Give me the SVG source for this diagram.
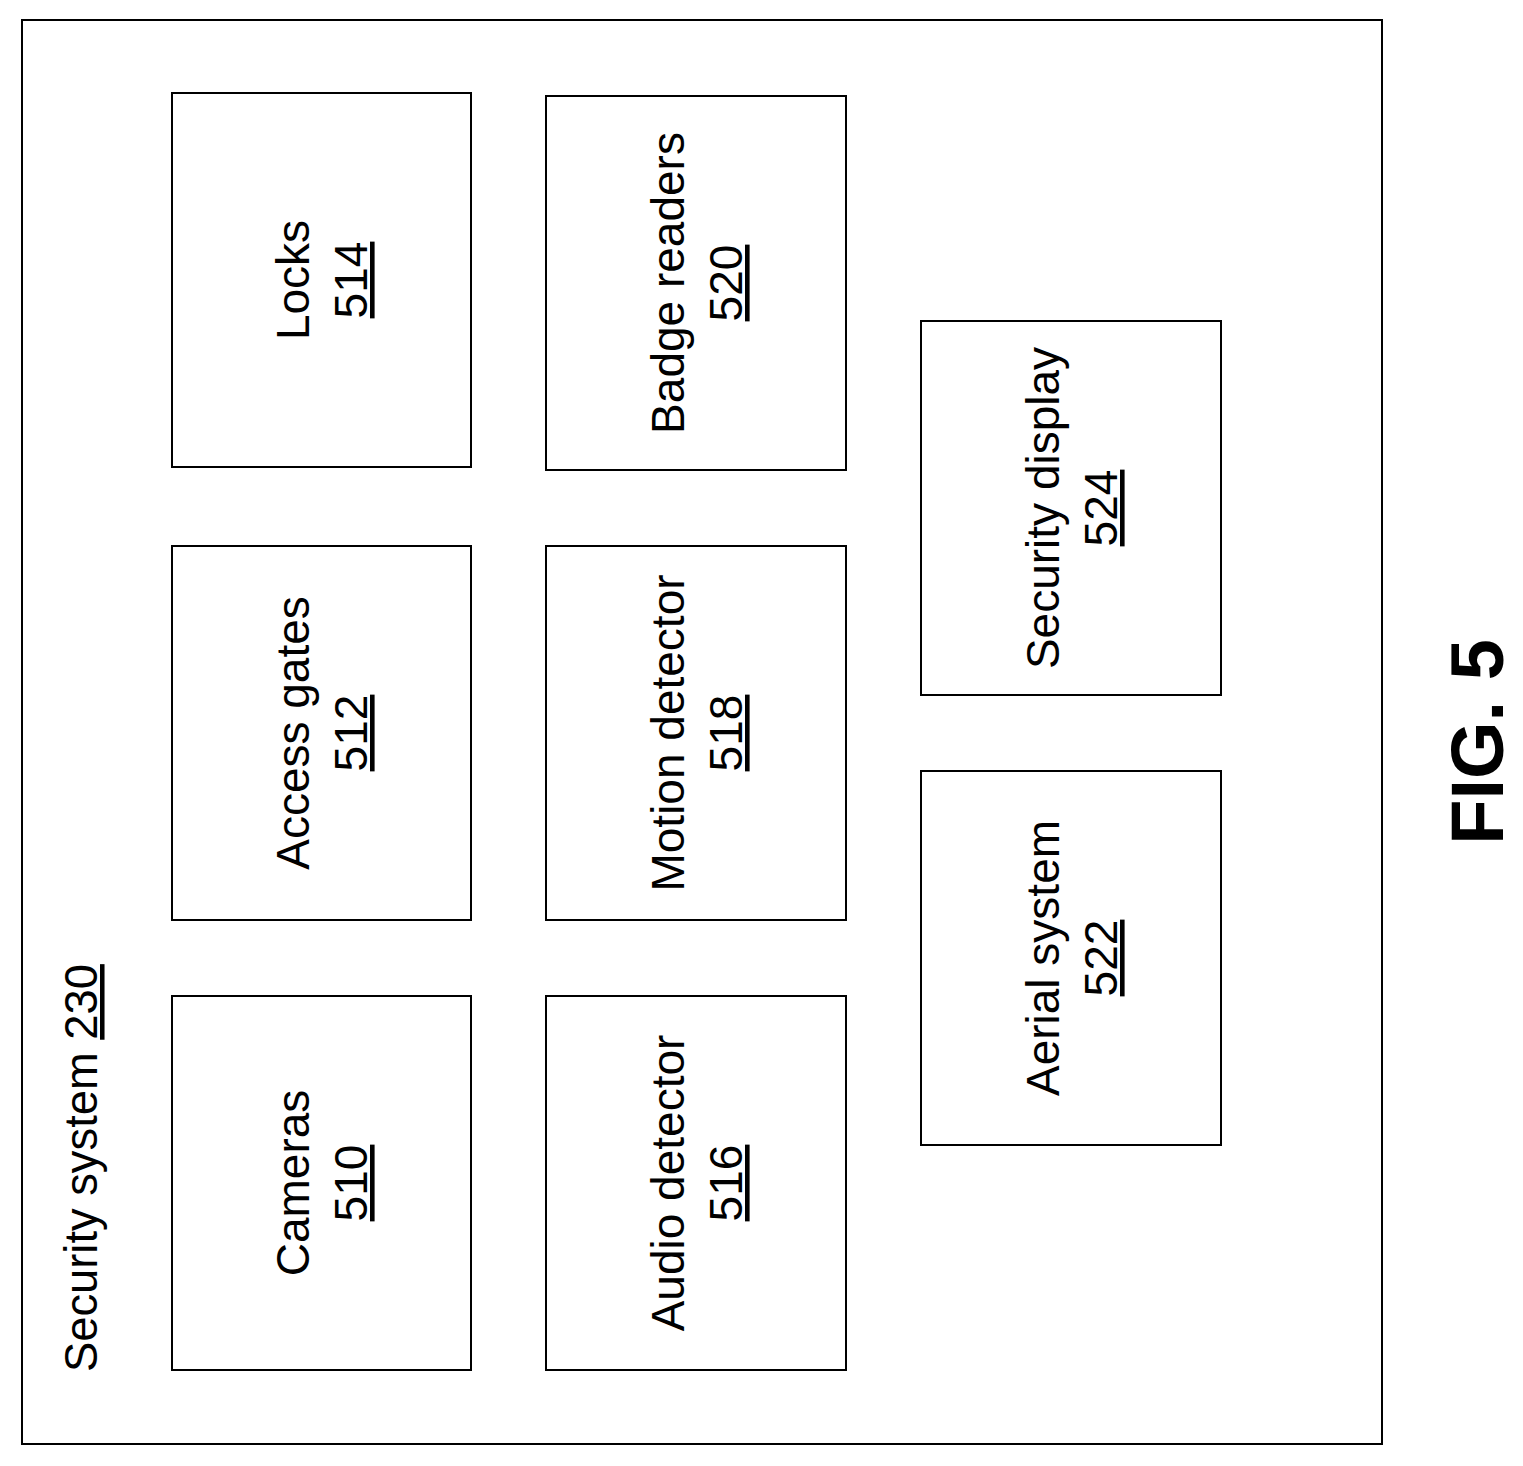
<svg xmlns="http://www.w3.org/2000/svg" width="1523" height="1466" viewBox="0 0 1523 1466">
<style>
rect{fill:#fff;stroke:#000;stroke-width:2}
text{font-family:"Liberation Sans",Arial,sans-serif;font-size:46px;text-anchor:middle;fill:#000}
.n{text-decoration:underline}
</style>
<rect x="0" y="0" width="1523" height="1466" style="stroke:none"/>
<g id="outer">
<rect x="22" y="20" width="1360" height="1424"/>
<text transform="translate(97,1372) rotate(-90)" style="text-anchor:start;font-size:45.3px">Security system <tspan class="n">230</tspan></text>
</g>
<g id="locks"><rect x="172" y="93" width="299" height="374"/><g transform="translate(321,280) rotate(-90)"><text y="-12">Locks</text><text class="n" y="46">514</text></g></g>
<g id="badge"><rect x="546" y="96" width="300" height="374"/><g transform="translate(696,283) rotate(-90)"><text y="-12">Badge readers</text><text class="n" y="46">520</text></g></g>
<g id="access"><rect x="172" y="546" width="299" height="374"/><g transform="translate(321,733) rotate(-90)"><text y="-12">Access gates</text><text class="n" y="46">512</text></g></g>
<g id="motion"><rect x="546" y="546" width="300" height="374"/><g transform="translate(696,733) rotate(-90)"><text y="-12">Motion detector</text><text class="n" y="46">518</text></g></g>
<g id="cameras"><rect x="172" y="996" width="299" height="374"/><g transform="translate(321,1183) rotate(-90)"><text y="-12">Cameras</text><text class="n" y="46">510</text></g></g>
<g id="audio"><rect x="546" y="996" width="300" height="374"/><g transform="translate(696,1183) rotate(-90)"><text y="-12">Audio detector</text><text class="n" y="46">516</text></g></g>
<g id="display"><rect x="921" y="321" width="300" height="374"/><g transform="translate(1071,508) rotate(-90)"><text y="-12">Security display</text><text class="n" y="46">524</text></g></g>
<g id="aerial"><rect x="921" y="771" width="300" height="374"/><g transform="translate(1071,958) rotate(-90)"><text y="-12">Aerial system</text><text class="n" y="46">522</text></g></g>
<g id="connectors"/>
<text transform="translate(1503,742) rotate(-90)" style="font-size:74px;font-weight:bold">FIG. 5</text>
</svg>
